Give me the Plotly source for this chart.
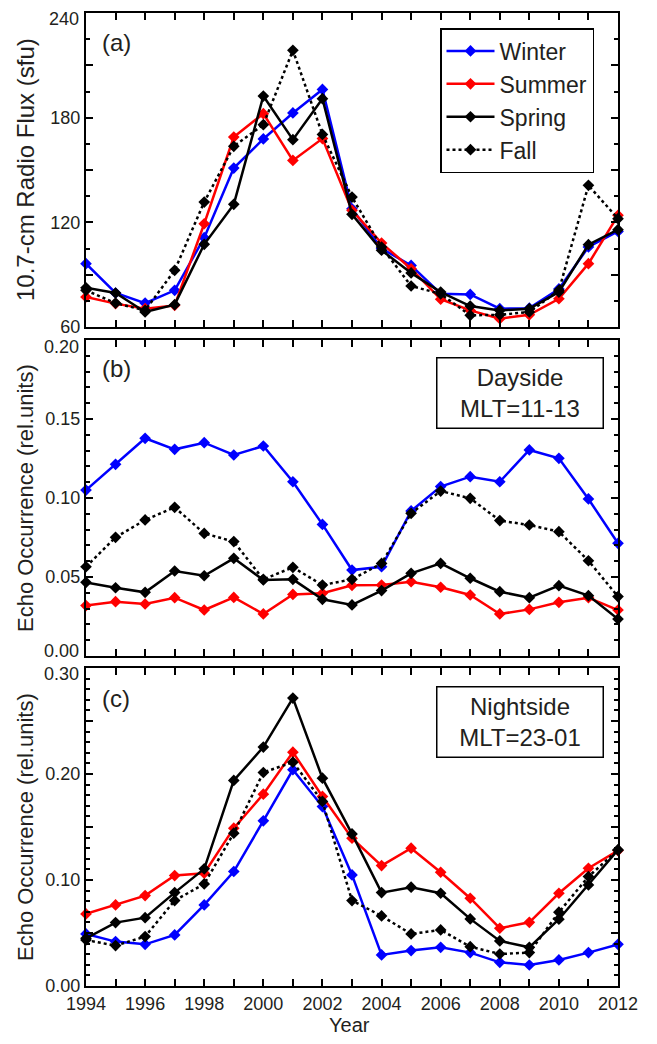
import plotly.graph_objects as go

years = list(range(1994, 2013))

# Panel (a): 10.7-cm radio flux (sfu)
flux_winter = [96.3, 79.5, 73.7, 81.0, 111.2, 151.1, 167.8, 182.7, 196.2, 127.8, 105.0, 95.3, 79.1, 78.7, 70.5, 70.8, 81.8, 105.9, 114.8]
flux_summer = [77.2, 73.4, 70.5, 72.4, 119.2, 168.9, 182.3, 155.5, 168.0, 126.9, 108.1, 93.4, 75.9, 69.5, 64.8, 67.0, 76.2, 96.3, 124.0]
flux_spring = [82.5, 79.5, 68.6, 72.8, 107.4, 130.3, 192.4, 167.4, 190.9, 124.6, 104.0, 91.0, 80.0, 72.0, 69.5, 70.5, 80.0, 107.2, 115.8]
flux_fall = [81.0, 73.7, 69.5, 92.5, 131.6, 163.6, 176.0, 218.6, 170.4, 134.5, 105.8, 83.5, 79.0, 66.7, 67.0, 68.6, 81.0, 141.2, 122.1]

# Panel (b): dayside echo occurrence
day_winter = [0.105, 0.1213, 0.1378, 0.1308, 0.135, 0.1272, 0.1329, 0.1103, 0.0833, 0.0544, 0.0565, 0.0918, 0.1072, 0.1135, 0.1103, 0.1304, 0.1251, 0.0994, 0.0713]
day_summer = [0.0319, 0.0344, 0.0329, 0.0369, 0.0291, 0.0371, 0.0266, 0.039, 0.0397, 0.0447, 0.0449, 0.047, 0.0435, 0.0386, 0.0266, 0.0295, 0.034, 0.0369, 0.0291]
day_spring = [0.0466, 0.0432, 0.0403, 0.0538, 0.0508, 0.0618, 0.0481, 0.0485, 0.0359, 0.0323, 0.0414, 0.0523, 0.0586, 0.0492, 0.0407, 0.0369, 0.0445, 0.0382, 0.0234]
day_fall = [0.0565, 0.0751, 0.0861, 0.0941, 0.0776, 0.0724, 0.0485, 0.0561, 0.0449, 0.0485, 0.0586, 0.0903, 0.1044, 0.0998, 0.0857, 0.0829, 0.0787, 0.0603, 0.0376]

# Panel (c): nightside echo occurrence
night_winter = [0.0491, 0.0419, 0.0393, 0.0482, 0.0765, 0.108, 0.1558, 0.204, 0.1693, 0.1048, 0.0293, 0.0334, 0.0365, 0.0315, 0.0223, 0.0198, 0.0246, 0.0315, 0.0393]
night_summer = [0.068, 0.0765, 0.0853, 0.1042, 0.1064, 0.1489, 0.181, 0.2206, 0.1788, 0.1394, 0.1136, 0.13, 0.1073, 0.0828, 0.0545, 0.0601, 0.0875, 0.1111, 0.1278]
night_spring = [0.045, 0.0598, 0.0645, 0.0881, 0.1105, 0.1939, 0.2254, 0.2716, 0.1961, 0.1435, 0.0881, 0.0932, 0.0875, 0.0633, 0.0425, 0.0365, 0.063, 0.0954, 0.1284]
night_fall = [0.0434, 0.0381, 0.0466, 0.0806, 0.0963, 0.1442, 0.2014, 0.2112, 0.1741, 0.0806, 0.0661, 0.0491, 0.0529, 0.0371, 0.0302, 0.0315, 0.0696, 0.1032, 0.1284]

season_names = ["Winter", "Summer", "Spring", "Fall"]
season_colors = ["#0000ff", "#ff0000", "#000000", "#000000"]
season_dash = ["solid", "solid", "solid", "dot"]

panels = [
    [flux_winter, flux_summer, flux_spring, flux_fall],
    [day_winter, day_summer, day_spring, day_fall],
    [night_winter, night_summer, night_spring, night_fall],
]

W, H = 657, 1044
FONT = "Liberation Sans, Arial, sans-serif"
TXT = "#231f20"

fig = go.Figure()
for p, series in enumerate(panels):
    ax = "" if p == 0 else str(p + 1)
    for i, ys in enumerate(series):
        fig.add_trace(go.Scatter(
            x=years, y=ys, mode="lines+markers", name=season_names[i],
            line=dict(color=season_colors[i], width=2.5, dash=season_dash[i]),
            marker=dict(symbol="diamond", size=9, color=season_colors[i]),
            showlegend=(p == 0), cliponaxis=False,
            xaxis="x" + ax, yaxis="y" + ax,
        ))

# panel pixel boundaries
left_px, right_px = 86, 618
rows_px = [(13, 327), (340, 656), (668, 986)]
xdom = [left_px / W, right_px / W]

def ydom(t, b):
    return [1 - b / H, 1 - t / H]

tickfont = dict(family=FONT, size=18, color=TXT)
common_axis = dict(showgrid=False, zeroline=False, showline=True, linecolor="black", linewidth=2,
                   mirror="allticks", ticks="inside", tickcolor="black", tickwidth=1.5,
                   tickfont=tickfont, automargin=False)

layout = dict(
    template="none",
    width=W, height=H, margin=dict(l=0, r=0, t=0, b=0, autoexpand=False),
    paper_bgcolor="white", plot_bgcolor="white",
    font=dict(family=FONT, color=TXT),
    showlegend=True,
    legend=dict(x=440 / W, y=1 - 28 / H, xanchor="left", yanchor="top",
                bgcolor="white", bordercolor="black", borderwidth=1.5,
                font=dict(family=FONT, size=23, color=TXT), tracegroupgap=0,
                itemwidth=48),
)

minor_y = dict(ticklen=4, ticks="inside", tickcolor="black", tickwidth=1.5)
yspecs = [
    dict(range=[60, 240], tickvals=[60, 90, 120, 150, 180, 210, 240],
         ticktext=["60", "", "120", "", "180", "", ""],
         minor=dict(minor_y, dtick=15, tick0=60)),
    dict(range=[0, 0.2], tickvals=[0, 0.05, 0.1, 0.15, 0.2],
         ticktext=["", "0.05", "0.10", "0.15", ""],
         minor=dict(minor_y, dtick=0.01, tick0=0)),
    dict(range=[0, 0.3], tickvals=[0, 0.05, 0.1, 0.15, 0.2, 0.25, 0.3],
         ticktext=["0.00", "", "0.10", "", "0.20", "", ""],
         minor=dict(minor_y, dtick=0.01, tick0=0)),
]

for p in range(3):
    ax = "" if p == 0 else str(p + 1)
    t, b = rows_px[p]
    layout["xaxis" + ax] = dict(
        common_axis, domain=xdom, anchor="y" + ax, range=[1994, 2012],
        tickmode="linear", tick0=1994, dtick=2, ticklen=7,
        showticklabels=(p == 2),
        minor=dict(dtick=1, tick0=1994, ticklen=7, ticks="inside", tickcolor="black", tickwidth=1.5),
    )
    layout["yaxis" + ax] = dict(common_axis, domain=ydom(t, b), anchor="x" + ax,
                                ticklen=7, **yspecs[p])

fig.update_layout(**layout)

ann = []
# panel-edge tick labels, nudged inside the panel edges as in the original
for lab, yc in [("240", 19), ("0.20", 347), ("0.00", 651), ("0.30", 674)]:
    ann.append(dict(x=(left_px - 5) / W, y=1 - yc / H, xref="paper", yref="paper", text=lab,
                    showarrow=False, xanchor="right", yanchor="middle",
                    font=tickfont))
# y-axis titles
ytitles = ["10.7-cm Radio Flux (sfu)", "Echo Occurrence (rel.units)", "Echo Occurrence (rel.units)"]
ysizes = [24, 22, 22]
for p in range(3):
    t, b = rows_px[p]
    ann.append(dict(x=25 / W, y=1 - ((t + b) / 2) / H, xref="paper", yref="paper",
                    text=ytitles[p], textangle=-90, showarrow=False,
                    xanchor="center", yanchor="middle",
                    font=dict(family=FONT, size=ysizes[p], color=TXT)))
# panel labels
for lab, yc in zip(["(a)", "(b)", "(c)"], [42, 368, 698]):
    ann.append(dict(x=116 / W, y=1 - yc / H, xref="paper", yref="paper", text=lab,
                    showarrow=False, xanchor="center", yanchor="middle",
                    font=dict(family=FONT, size=24, color=TXT)))
# region boxes
for txt, yc in [("Dayside<br>MLT=11-13", 393), ("Nightside<br>MLT=23-01", 722)]:
    ann.append(dict(x=519.5 / W, y=1 - yc / H, xref="paper", yref="paper", text=txt,
                    showarrow=False, xanchor="center", yanchor="middle", align="center",
                    width=161, height=65, borderpad=2, borderwidth=1.5, bordercolor="black",
                    bgcolor="white", font=dict(family=FONT, size=24, color=TXT)))
# x-axis title
ann.append(dict(x=349 / W, y=1 - 1025 / H, xref="paper", yref="paper", text="Year",
                showarrow=False, xanchor="center", yanchor="middle",
                font=dict(family=FONT, size=20, color=TXT)))
fig.update_layout(annotations=ann)

fig.write_html("out.html")
